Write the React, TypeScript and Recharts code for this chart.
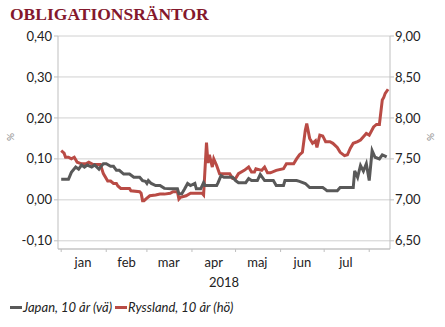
import React from 'react';
import { LineChart, Line, XAxis, YAxis, CartesianGrid } from 'recharts';

// days counted from 1 Jan 2018
const japanDays = [0, 5, 7, 10, 12, 14, 16, 18, 21, 23, 26, 27, 29, 31, 34, 36, 38, 40, 43, 47, 50, 54, 56, 58, 59, 60, 62, 65, 68, 71, 76, 80, 81, 83, 85, 87, 89, 92, 93, 96, 98, 99, 102, 107, 108, 110, 112, 116, 118, 120, 122, 127, 129, 131, 135, 137, 140, 146, 148, 153, 154, 162, 164, 168, 171, 180, 182, 183, 190, 192, 201, 202, 204, 206, 208, 210, 212, 214, 216, 219, 221, 224];
const japanValues = [0.05, 0.05, 0.067, 0.08, 0.075, 0.085, 0.08, 0.085, 0.08, 0.085, 0.075, 0.08, 0.088, 0.088, 0.082, 0.082, 0.072, 0.072, 0.063, 0.063, 0.055, 0.055, 0.047, 0.045, 0.04, 0.047, 0.04, 0.035, 0.035, 0.028, 0.027, 0.027, 0.015, 0.015, 0.027, 0.04, 0.035, 0.04, 0.027, 0.027, 0.042, 0.035, 0.035, 0.035, 0.042, 0.059, 0.055, 0.055, 0.055, 0.047, 0.042, 0.042, 0.052, 0.047, 0.047, 0.062, 0.047, 0.047, 0.035, 0.035, 0.047, 0.047, 0.045, 0.04, 0.03, 0.03, 0.025, 0.022, 0.022, 0.03, 0.03, 0.071, 0.055, 0.084, 0.07, 0.088, 0.047, 0.12, 0.104, 0.1, 0.11, 0.105];

const russiaDays = [0, 2, 3, 5, 7, 9, 11, 14, 17, 19, 22, 27, 29, 32, 34, 36, 38, 39, 41, 47, 48, 54, 55, 56, 57, 59, 61, 65, 68, 71, 75, 77, 80, 81, 82, 86, 89, 97, 98, 100, 101, 102, 104, 105, 107, 109, 111, 116, 118, 120, 122, 126, 129, 131, 133, 134, 138, 140, 142, 144, 148, 153, 155, 160, 162, 164, 166, 168, 169, 171, 173, 175, 176, 178, 180, 182, 185, 187, 190, 192, 195, 197, 199, 201, 204, 206, 208, 210, 212, 215, 217, 219, 221, 222, 223, 225];
const russiaValues = [7.6, 7.57, 7.52, 7.52, 7.5, 7.52, 7.46, 7.44, 7.44, 7.46, 7.43, 7.43, 7.32, 7.23, 7.23, 7.2, 7.2, 7.17, 7.14, 7.14, 7.11, 7.1, 7.08, 6.99, 6.99, 7.02, 7.05, 7.06, 7.07, 7.07, 7.08, 7.1, 7.1, 7.01, 7.03, 7.05, 7.08, 7.08, 7.06, 7.7, 7.45, 7.55, 7.4, 7.5, 7.42, 7.32, 7.32, 7.32, 7.26, 7.26, 7.32, 7.36, 7.4, 7.34, 7.34, 7.38, 7.36, 7.4, 7.33, 7.33, 7.36, 7.38, 7.44, 7.44, 7.5, 7.55, 7.58, 7.85, 7.93, 7.75, 7.69, 7.72, 7.64, 7.79, 7.78, 7.71, 7.71, 7.69, 7.64, 7.58, 7.54, 7.55, 7.63, 7.69, 7.71, 7.73, 7.77, 7.81, 7.79, 7.89, 7.92, 7.92, 8.22, 8.25, 8.3, 8.35];

const monthStarts = [0, 31, 59, 90, 120, 151, 181, 212];
const monthMids = [15, 45, 74, 105, 135, 166, 196];
const monthLabels = ['jan', 'feb', 'mar', 'apr', 'maj', 'jun', 'jul'];
const leftTicks = [-0.1, 0, 0.1, 0.2, 0.3, 0.4];
const rightTicks = [6.5, 7, 7.5, 8, 8.5, 9];

const japanData = japanDays.map((d, i) => ({ day: d, v: japanValues[i] }));
const russiaData = russiaDays.map((d, i) => ({ day: d, v: russiaValues[i] }));

const FONT = 'Lato, "Open Sans", sans-serif';
const AXIS = '#bfbfbf';
const GRAY = '#595959';
const RED = '#b94b45';

const fmt = (v: number) => v.toFixed(2).replace('.', ',');

const MonthTick = (props: any) => {
    const { x, y, payload } = props;
    const idx = monthMids.indexOf(payload.value);
    if (idx >= 0) {
        return (
            <text x={x} y={y + 18} textAnchor="middle" fontSize={13} fontFamily={FONT} fill="#222">
                {monthLabels[idx]}
            </text>
        );
    }
    return <line x1={x} x2={x} y1={y} y2={y + 3} stroke={AXIS} />;
};

export default function App() {
    return (
        <div style={{ position: 'relative', width: 445, height: 327, background: '#fff', fontFamily: FONT }}>
            <style>{'body{margin:0}'}</style>
            <div style={{ position: 'absolute', left: 10, top: 4, fontFamily: '"Liberation Serif", serif', fontWeight: 'bold', fontSize: 17.5, color: '#84182c' }}>
                OBLIGATIONSRÄNTOR
            </div>

            <LineChart width={445} height={327} margin={{ top: 36, right: 0, left: 0, bottom: 48 }}>
                <CartesianGrid vertical={false} stroke="#d0d0d0" yAxisId="left" />
                <XAxis
                    dataKey="day"
                    type="number"
                    domain={[-2.2, 226.3]}
                    allowDataOverflow
                    ticks={[...monthStarts, ...monthMids].sort((a, b) => a - b)}
                    interval={0}
                    tick={<MonthTick />}
                    tickLine={false}
                    tickSize={0}
                    tickMargin={0}
                    height={30}
                    stroke={AXIS}
                    label={{ value: '2018', position: 'insideBottom', offset: -8, fontSize: 13, fontFamily: FONT, fill: '#222' }}
                />
                <YAxis
                    yAxisId="left"
                    orientation="left"
                    width={58}
                    domain={[-0.12, 0.4]}
                    ticks={leftTicks}
                    allowDataOverflow
                    tickFormatter={fmt}
                    tickSize={4}
                    tickMargin={2}
                    stroke={AXIS}
                    tick={{ fill: '#222', fontSize: 13, fontFamily: FONT }}
                />
                <YAxis
                    yAxisId="right"
                    orientation="right"
                    width={55}
                    domain={[6.4, 9.0]}
                    ticks={rightTicks}
                    allowDataOverflow
                    tickFormatter={fmt}
                    tickSize={4}
                    tickMargin={1}
                    stroke={AXIS}
                    tick={{ fill: '#222', fontSize: 13, fontFamily: FONT }}
                />
                <Line yAxisId="right" data={russiaData} dataKey="v" type="linear" stroke={RED} strokeWidth={3} dot={false} isAnimationActive={false} />
                <Line yAxisId="left" data={japanData} dataKey="v" type="linear" stroke={GRAY} strokeWidth={3} dot={false} isAnimationActive={false} />
            </LineChart>

            <div style={{ position: 'absolute', left: 6, top: 131, fontSize: 10, color: '#888', transform: 'rotate(-90deg)' }}>%</div>
            <div style={{ position: 'absolute', left: 426, top: 131, fontSize: 10, color: '#888', transform: 'rotate(-90deg)' }}>%</div>

            <div style={{ position: 'absolute', left: 10, top: 299, display: 'flex', alignItems: 'center', fontSize: 13, fontStyle: 'italic', color: '#222', whiteSpace: 'nowrap' }}>
                <span style={{ display: 'inline-block', width: 12, height: 3, background: GRAY, marginRight: 1 }} />
                <span>Japan, 10 år (vä)</span>
                <span style={{ display: 'inline-block', width: 12, height: 3, background: RED, marginLeft: 3, marginRight: 1 }} />
                <span>Ryssland, 10 år (hö)</span>
            </div>
        </div>
    );
}
